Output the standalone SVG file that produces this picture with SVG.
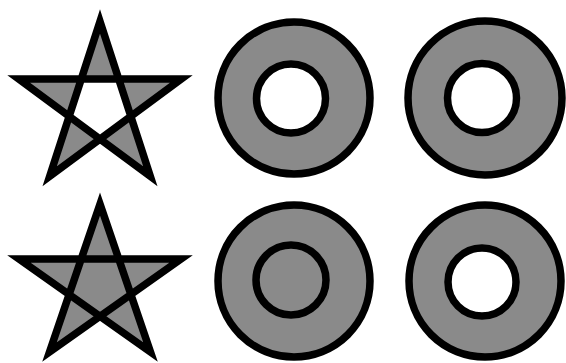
<svg xmlns="http://www.w3.org/2000/svg" width="566" height="363" viewBox="0 0 566 363">
<style>
.s{fill:#8a8a8a;stroke:#000;stroke-width:7.5;stroke-linejoin:miter;stroke-miterlimit:5}
.eo{fill-rule:evenodd}
.nz{fill-rule:nonzero}
</style>
<rect width="566" height="363" fill="#fff"/>
<g id="star-evenodd">
<path class="s eo" d="M100,21.5 L150.3,176.2 L18.7,79 L181.3,79 L49.7,176.2 Z"/>
</g>
<g id="star-nonzero">
<path class="s nz" d="M100,204 L150.5,352 L19,259 L181,259 L49.5,352 Z"/>
</g>
<g id="ring-top-middle">
<path class="s eo" d="M294,22 A76,76 0 1,1 294,174 A76,76 0 1,1 294,22 Z M291,64 A34.5,34.5 0 1,1 291,133 A34.5,34.5 0 1,1 291,64 Z"/>
</g>
<g id="ring-top-right">
<path class="s nz" d="M485,21 A77,77 0 1,1 485,175 A77,77 0 1,1 485,21 Z M482,63.5 A34.5,34.5 0 1,0 482,132.5 A34.5,34.5 0 1,0 482,63.5 Z"/>
</g>
<g id="ring-bottom-middle">
<path class="s nz" d="M294,205 A76,76 0 1,1 294,357 A76,76 0 1,1 294,205 Z M291,245 A35,35 0 1,1 291,315 A35,35 0 1,1 291,245 Z"/>
</g>
<g id="ring-bottom-right">
<path class="s eo" d="M485,205 A76,76 0 1,1 485,357 A76,76 0 1,1 485,205 Z M482,248 A34,34 0 1,0 482,316 A34,34 0 1,0 482,248 Z"/>
</g>
</svg>
